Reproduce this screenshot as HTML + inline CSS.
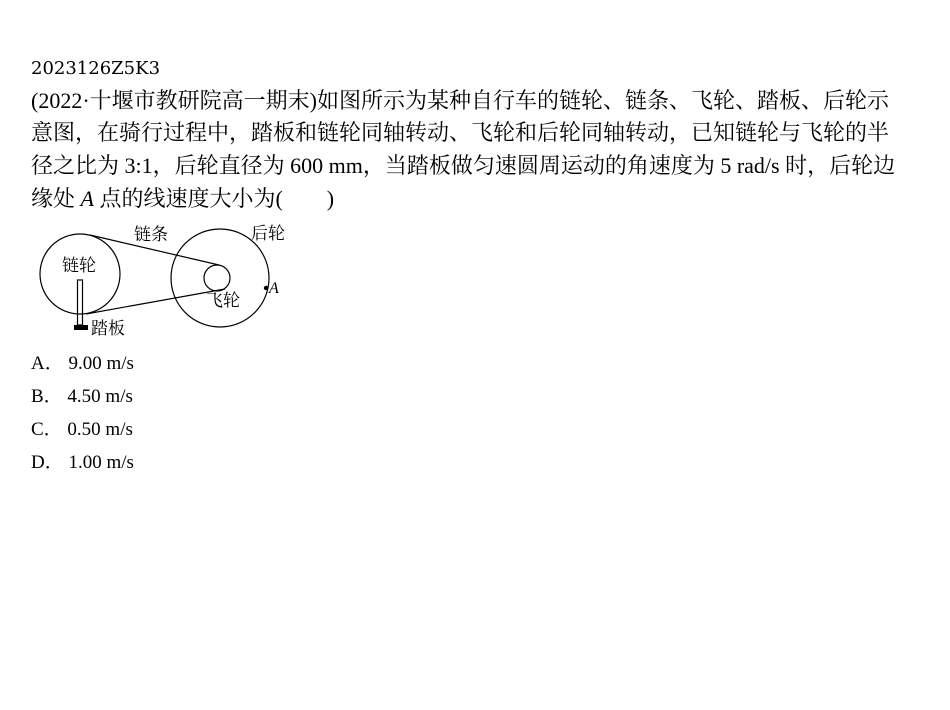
<!DOCTYPE html>
<html><head><meta charset="utf-8"><style>
body{margin:0;width:950px;height:710px;background:#fff;position:relative;overflow:hidden;font-family:"Liberation Serif","Noto Serif CJK SC",serif;color:#000}
.l{position:absolute;left:31px;font-size:22px;white-space:nowrap;line-height:24px}
</style></head><body>
<div class="l" style="top:57px;font-family:'DejaVu Serif',serif;font-size:18px">2023126Z5K3</div>
<div class="l" style="top:89px">(2022·十堰市教研院高一期末)如图所示为某种自行车的链轮、链条、飞轮、踏板、后轮示</div>
<div class="l" style="top:121px">意图，在骑行过程中，踏板和链轮同轴转动、飞轮和后轮同轴转动，已知链轮与飞轮的半</div>
<div class="l" style="top:154px">径之比为 3:1，后轮直径为 600 mm，当踏板做匀速圆周运动的角速度为 5 rad/s 时，后轮边</div>
<div class="l" style="top:187px">缘处 <i>A</i> 点的线速度大小为(　　)</div>
<svg style="position:absolute;left:0;top:0" width="950" height="710">
<g fill="none" stroke="#000" stroke-width="1.2">
<circle cx="80" cy="274" r="40"/>
<circle cx="220" cy="278" r="49"/>
<circle cx="217" cy="278" r="13"/>
<line x1="90" y1="235" x2="219" y2="265"/>
<line x1="86" y1="314" x2="225" y2="289"/>
<rect x="77.5" y="280" width="5" height="45"/>
</g>
<rect x="74" y="325" width="14" height="5" fill="#000"/>
<circle cx="266" cy="288" r="2.2" fill="#000"/>
<g font-family="'Liberation Serif','Noto Serif CJK SC',serif" font-size="17">
<text x="134" y="240">链条</text>
<text x="251" y="239">后轮</text>
<text x="62" y="271">链轮</text>
<text x="206" y="306">飞轮</text>
<text x="91" y="334">踏板</text>
<text x="269" y="293" font-style="italic" font-size="16">A</text>
</g>
</svg>
<div class="l" style="top:352px;font-size:19px">A．&nbsp;9.00 m/s</div>
<div class="l" style="top:385px;font-size:19px">B．&nbsp;4.50 m/s</div>
<div class="l" style="top:418px;font-size:19px">C．&nbsp;0.50 m/s</div>
<div class="l" style="top:451px;font-size:19px">D．&nbsp;1.00 m/s</div>
</body></html>
